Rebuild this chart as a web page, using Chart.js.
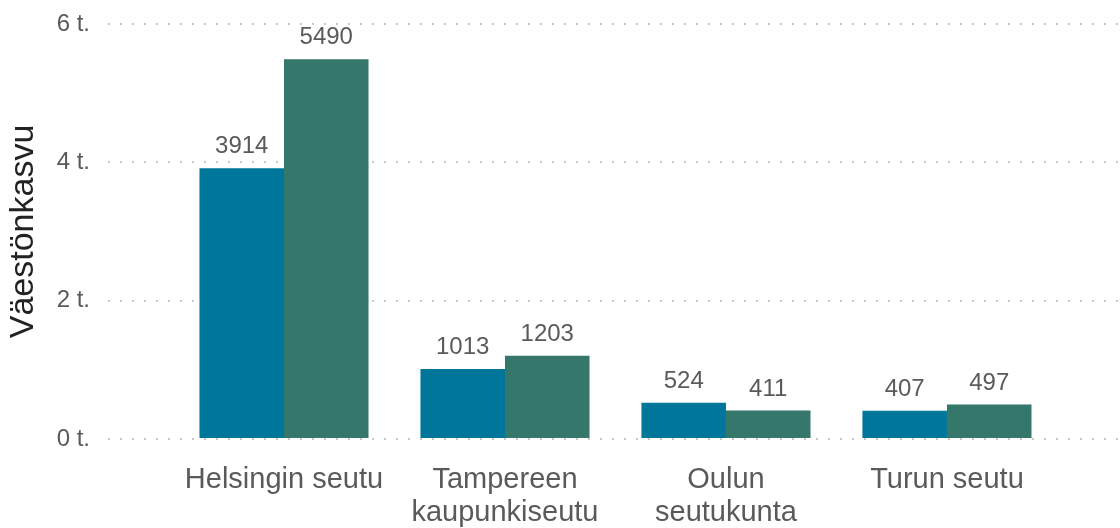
<!DOCTYPE html>
<html>
<head>
<meta charset="utf-8">
<script src="https://cdn.jsdelivr.net/npm/chart.js@4/dist/chart.umd.min.js"></script>
<style>
  html, body { margin: 0; padding: 0; background: #fff; }
  #wrap { width: 1120px; height: 528px; position: relative; }
</style>
</head>
<body>
<div id="wrap"><canvas id="c" width="1120" height="528"></canvas></div>
<script>
const categories = [["Helsingin seutu"], ["Tampereen", "kaupunkiseutu"], ["Oulun", "seutukunta"], ["Turun seutu"]];
const seriesA = [3914, 1013, 524, 407];
const seriesB = [5490, 1203, 411, 497];
const yTicks = [0, 2000, 4000, 6000];
const yTickLabels = ["0 t.", "2 t.", "4 t.", "6 t."];
const yTitle = "Väestönkasvu";

const FONT = '"Liberation Sans", Arial, Helvetica, sans-serif';

const valueLabels = {
  id: 'valueLabels',
  afterDatasetsDraw(chart) {
    const ctx = chart.ctx;
    ctx.save();
    ctx.font = '24px ' + FONT;
    ctx.fillStyle = '#5a5a5a';
    ctx.textAlign = 'center';
    ctx.textBaseline = 'alphabetic';
    chart.data.datasets.forEach((ds, di) => {
      const meta = chart.getDatasetMeta(di);
      meta.data.forEach((bar, i) => {
        ctx.fillText(String(ds.data[i].y), bar.x, bar.y - 15);
      });
    });
    ctx.restore();
  }
};

new Chart(document.getElementById('c'), {
  type: 'bar',
  data: {
    datasets: [
      { label: 'A', data: seriesA.map((v, i) => ({x: i, y: v})), backgroundColor: '#00779a', borderWidth: 0 },
      { label: 'B', data: seriesB.map((v, i) => ({x: i, y: v})), backgroundColor: '#35776a', borderWidth: 0 }
    ]
  },
  options: {
    responsive: false,
    animation: false,
    devicePixelRatio: 1,
    categoryPercentage: 0.765,
    barPercentage: 1,
    layout: { padding: { top: 24, left: 0, right: 0, bottom: 0 } },
    plugins: { legend: { display: false }, tooltip: { enabled: false } },
    scales: {
      x: {
        type: 'linear',
        offset: false,
        min: -0.7964,
        max: 3.783,
        grid: { display: false },
        border: { display: false },
        afterFit(scale) { scale.height = 89; scale.paddingLeft = 0; scale.paddingRight = 0; },
        afterBuildTicks(scale) { scale.ticks = categories.map((c, i) => ({value: i})); },
        ticks: {
          autoSkip: false,
          maxRotation: 0,
          padding: 17,
          color: '#5a5a5a',
          font: { family: FONT, size: 29, lineHeight: 1.12 },
          callback: (v) => categories[v] || ''
        }
      },
      y: {
        min: 0,
        max: 6000,
        afterFit(scale) { scale.width = 108; scale.paddingTop = 0; scale.paddingBottom = 0; },
        afterBuildTicks(scale) { scale.ticks = yTicks.map(v => ({value: v})); },
        grid: {
          color: '#c8c8c8',
          lineWidth: 2,
          drawTicks: false
        },
        border: { display: false, dash: [2, 10] },
        ticks: {
          padding: 18,
          color: '#5a5a5a',
          font: { family: FONT, size: 24 },
          callback: (v) => yTickLabels[yTicks.indexOf(v)]
        },
        title: {
          display: true,
          text: yTitle,
          color: '#222222',
          font: { family: FONT, size: 34, lineHeight: 1.2 },
          padding: { top: 3, bottom: 0 }
        }
      }
    }
  },
  plugins: [valueLabels]
});
</script>
</body>
</html>
